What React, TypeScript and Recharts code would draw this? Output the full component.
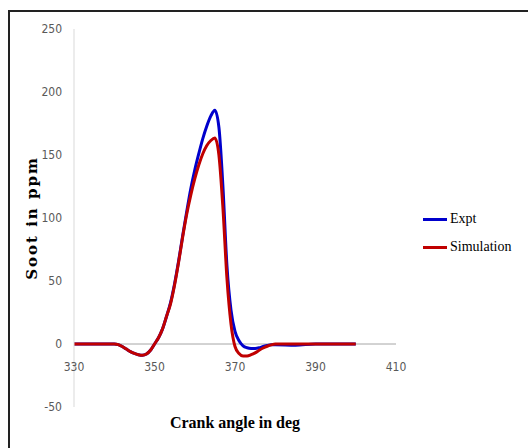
import { LineChart, Line, XAxis, YAxis, ReferenceLine } from "recharts";

const angles = [330, 335, 340, 341, 342, 343, 344, 345, 346, 347, 348, 349, 350, 351, 352, 353, 354, 355, 356, 357, 358, 359, 360, 361, 362, 363, 364, 365, 366, 367, 368, 369, 370, 371, 372, 373, 374, 375, 376, 377, 378, 379, 380, 385, 390, 395, 400];
const expt = [0, 0, 0, -0.5, -2, -4, -6, -7.5, -8.5, -9, -8, -5, 0, 5, 12, 22, 33, 48, 66, 86, 105, 123, 138, 151, 163, 173, 181, 185.5, 172, 125, 62, 27, 10, 2.5, -1.5, -3, -3.5, -3.5, -3, -2, -1.2, -0.5, -0.5, -1, 0, 0, 0];
const simulation = [0, 0, 0, -0.5, -2, -4, -6, -7.5, -8.5, -9, -8, -5, 0, 5, 12, 22, 32, 47, 65, 85, 103, 118, 131, 142, 151, 157.5, 161.5, 163.5, 150, 108, 52, 16, -2, -7.5, -9.5, -9.5, -8.5, -7, -5, -3.2, -1.8, -0.7, 0, 0, 0, 0, 0];

const xTicks = [330, 350, 370, 390, 410];
const yTicks = [-50, 0, 50, 100, 150, 200, 250];

const data = angles.map((deg, i) => ({ deg, expt: expt[i], simulation: simulation[i] }));

const W = 528;
const H = 448;
const MARGIN = { top: 29, right: 132, bottom: 11, left: 14 };
const Y_AXIS_W = 60;
const X_AXIS_H = 30;
const Y_MIN = -50;
const Y_MAX = 250;
const PLOT_H = H - MARGIN.top - MARGIN.bottom - X_AXIS_H;

const tickFont = "'DejaVu Sans Condensed', 'Liberation Sans Narrow', sans-serif";
const serif = "'Liberation Serif', 'DejaVu Serif', serif";

// x tick labels sit under the zero line, like Excel's crossing axis
const XTick = (props: any) => {
  const { x, y, payload } = props;
  const zeroFromBottom = (PLOT_H * (0 - Y_MIN)) / (Y_MAX - Y_MIN);
  return (
    <text x={x} y={y - zeroFromBottom + 27} textAnchor="middle" fill="#595959" fontSize={12} fontFamily={tickFont}>
      {payload.value}
    </text>
  );
};

const YTitle = (props: any) => {
  const { x, y, height } = props.viewBox;
  const cx = x + 23;
  const cy = y + height / 2;
  return (
    <text x={cx} y={cy} transform={`rotate(-90, ${cx}, ${cy})`} textAnchor="middle" fontSize={15} fontWeight="bold" letterSpacing={2} fontFamily="'DejaVu Serif', serif" fill="#000">
      Soot in ppm
    </text>
  );
};

const XTitle = (props: any) => {
  const { x, y, width } = props.viewBox;
  return (
    <text x={x + width / 2} y={y + 21} textAnchor="middle" fontSize={16} fontWeight="bold" fontFamily={serif} fill="#000">
      Crank angle in deg
    </text>
  );
};

const legendItems = [
  { name: "Expt", color: "#0000cc" },
  { name: "Simulation", color: "#c00000" },
];

export default function App() {
  return (
    <div style={{ position: "fixed", left: 0, top: 0, width: W, height: H, background: "#fff" }}>
      <div
        style={{
          position: "absolute",
          left: 8,
          top: 10,
          width: W,
          height: H,
          borderTop: "2px solid #222",
          borderLeft: "2px solid #222",
        }}
      />
      <div style={{ position: "absolute", left: 0, top: 0 }}>
        <LineChart width={W} height={H} data={data} margin={MARGIN}>
          <XAxis
            dataKey="deg"
            type="number"
            domain={[330, 410]}
            ticks={xTicks}
            axisLine={false}
            tickLine={false}
            tickSize={0}
            tickMargin={0}
            height={X_AXIS_H}
            tick={<XTick />}
            label={<XTitle />}
          />
          <YAxis
            type="number"
            domain={[Y_MIN, Y_MAX]}
            ticks={yTicks}
            width={Y_AXIS_W}
            axisLine={{ stroke: "#d9d9d9" }}
            tickLine={false}
            tickSize={0}
            tickMargin={12}
            tick={{ fill: "#595959", fontSize: 12, fontFamily: tickFont }}
            label={<YTitle />}
          />
          <ReferenceLine y={0} stroke="#a6a6a6" strokeWidth={1} />
          <Line type="monotone" dataKey="expt" stroke="#0000cc" strokeWidth={3} dot={false} isAnimationActive={false} />
          <Line type="monotone" dataKey="simulation" stroke="#c00000" strokeWidth={3} dot={false} isAnimationActive={false} />
        </LineChart>
      </div>
      <div style={{ position: "absolute", left: 423, top: 205, fontFamily: serif, fontSize: 14, color: "#000" }}>
        {legendItems.map((it) => (
          <div key={it.name} style={{ display: "flex", alignItems: "center", height: 28 }}>
            <span style={{ display: "inline-block", width: 24, height: 3, background: it.color, marginRight: 3 }} />
            {it.name}
          </div>
        ))}
      </div>
    </div>
  );
}
